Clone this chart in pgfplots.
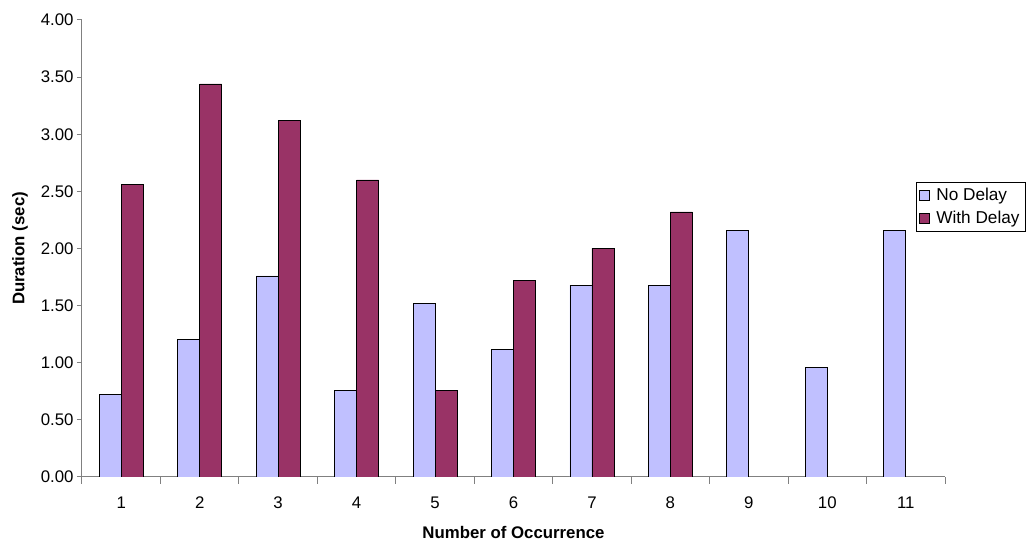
\documentclass[border=0pt]{standalone}
\usepackage{pgfplots}
\pgfplotsset{compat=1.18}
\usepackage{fontspec}
\setmainfont{Liberation Sans}
\definecolor{nodelay}{HTML}{C0C0FF}
\definecolor{withdelay}{HTML}{993366}
\definecolor{axisgray}{HTML}{808080}
\begin{document}
\begin{tikzpicture}
\path[use as bounding box] (-82pt,-68pt) rectangle (947pt,477pt);
\begin{axis}[
  scale only axis,
  width=863pt, height=457pt,
  at={(0,0)}, anchor=south west,
  font=\fontsize{16.8}{20}\selectfont,
  /pgf/number format/assume math mode=true,
  ybar=0pt, bar width=22pt,
  xmin=0.5, xmax=11.5,
  ymin=0, ymax=4,
  ytick={0,0.5,...,4},
  yticklabel style={/pgf/number format/.cd, fixed, fixed zerofill, precision=2},
  xticklabel style={yshift=-11pt},
  xtick={1,...,11},
  minor xtick={0.5,1.5,...,11.5},
  major x tick style={draw=none},
  minor tick length=7pt,
  major tick length=5pt,
  tick align=outside,
  axis x line*=bottom, axis y line*=left,
  axis line style={draw=axisgray, line width=1pt, -},
  tick style={draw=axisgray, line width=1pt},
  xlabel={\bfseries Number of Occurrence},
  ylabel={\bfseries Duration (sec)},
  xlabel style={at={(axis description cs:0.5,-0.1225)}, anchor=center},
  ylabel style={at={(axis description cs:-0.0718,0.5)}, anchor=center, rotate=0},
  legend style={at={(axis description cs:0.966,0.6455)}, anchor=north west,
    draw=black, line width=0.8pt, inner sep=3pt, row sep=3pt,
    font=\fontsize{17.2}{20}\selectfont,
    nodes={inner sep=3pt, anchor=west}},
  legend cell align=left,
  legend image code/.code={\draw[#1, draw=black, line width=0.8pt] (0pt,-5pt) rectangle (10pt,5pt);
    \path (13.5pt,0pt);},
  every axis plot/.append style={draw=black, line width=0.8pt},
]
\addplot[fill=nodelay] coordinates {(1,0.72) (2,1.20) (3,1.76) (4,0.76) (5,1.52) (6,1.12) (7,1.68) (8,1.68) (9,2.16) (10,0.96) (11,2.16)};
\addplot[fill=withdelay] coordinates {(1,2.56) (2,3.44) (3,3.12) (4,2.60) (5,0.76) (6,1.72) (7,2.00) (8,2.32)};
\legend{No Delay, With Delay}
\end{axis}
\end{tikzpicture}
\end{document}
